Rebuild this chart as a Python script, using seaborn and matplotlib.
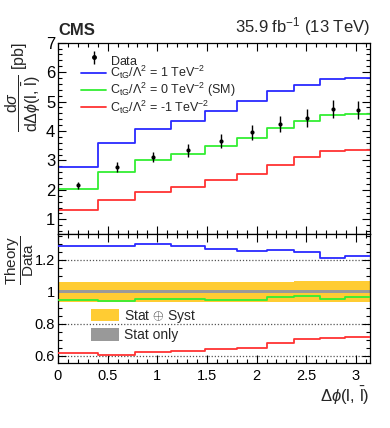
import numpy as np
import pandas as pd
import matplotlib
matplotlib.use("Agg")
import matplotlib.pyplot as plt
import seaborn as sns
from matplotlib.ticker import MultipleLocator, FixedLocator
from matplotlib.patches import Rectangle
from matplotlib.lines import Line2D

# ---------------- data ----------------
bin_edges = [0.0, 0.40, 0.78, 1.14, 1.48, 1.80, 2.10, 2.38, 2.64, 2.89, 3.1416]
data_vals = [2.15, 2.78, 3.12, 3.35, 3.66, 3.95, 4.24, 4.44, 4.75, 4.71]
data_errs = [0.13, 0.17, 0.18, 0.22, 0.23, 0.25, 0.28, 0.30, 0.30, 0.30]
ctg_p1 = [2.78, 3.58, 4.07, 4.34, 4.67, 5.01, 5.35, 5.57, 5.77, 5.80]
ctg_0 = [2.04, 2.61, 3.00, 3.21, 3.50, 3.77, 4.09, 4.34, 4.55, 4.58]
ctg_m1 = [1.30, 1.64, 1.93, 2.08, 2.32, 2.55, 2.84, 3.10, 3.32, 3.37]
ratio_p1 = [1.289, 1.289, 1.297, 1.285, 1.269, 1.256, 1.260, 1.247, 1.214, 1.225]
ratio_0 = [0.950, 0.942, 0.958, 0.954, 0.948, 0.948, 0.965, 0.971, 0.958, 0.967]
ratio_m1 = [0.619, 0.602, 0.621, 0.631, 0.640, 0.650, 0.677, 0.704, 0.710, 0.718]
unc_tot = [0.064, 0.064, 0.064, 0.064, 0.064, 0.064, 0.064, 0.065, 0.065, 0.065]
unc_stat = [0.010, 0.010, 0.010, 0.010, 0.010, 0.010, 0.010, 0.010, 0.010, 0.010]
x_ticks = [0, 0.5, 1, 1.5, 2, 2.5, 3]
x_ticklabels = ["0", "0.5", "1", "1.5", "2", "2.5", "3"]
ratio_ticks = [0.6, 0.8, 1.0, 1.2]
ratio_ticklabels = ["0.6", "0.8", "1", "1.2"]

labels = [r"$\mathrm{C_{tG}/\Lambda^{2}}$ = 1 TeV$^{-2}$",
          r"$\mathrm{C_{tG}/\Lambda^{2}}$ = 0 TeV$^{-2}$ (SM)",
          r"$\mathrm{C_{tG}/\Lambda^{2}}$ = -1 TeV$^{-2}$"]
colors = ["#2a2aff", "#33ee33", "#ff3333"]

# ---------------- style ----------------
sns.set_theme(style="ticks")
plt.rcParams["font.family"] = ["Liberation Sans", "DejaVu Sans"]
plt.rcParams["mathtext.fontset"] = "custom"
plt.rcParams["mathtext.rm"] = "Liberation Sans"
plt.rcParams["mathtext.it"] = "Liberation Sans:italic"
plt.rcParams["mathtext.bf"] = "Liberation Sans:bold"
plt.rcParams["mathtext.sf"] = "Liberation Sans"

W, H = 390, 428
fig = plt.figure(figsize=(W / 100, H / 100), dpi=100)

def px(l, t, r, b):
    return [l / W, 1 - b / H, (r - l) / W, (b - t) / H]

ax1 = fig.add_axes(px(58, 42.7, 370, 234))
ax2 = fig.add_axes(px(58, 234, 370, 363.3))

edges = np.array(bin_edges)
centers = 0.5 * (edges[:-1] + edges[1:])

def step_df(vals):
    return pd.DataFrame({"x": edges, "y": list(vals) + [vals[-1]]})

# ---------------- upper panel ----------------
for vals, c in zip([ctg_p1, ctg_0, ctg_m1], colors):
    sns.lineplot(data=step_df(vals), x="x", y="y", ax=ax1, color=c,
                 drawstyle="steps-post", lw=1.3, legend=False)

ax1.errorbar(centers, data_vals, yerr=data_errs, fmt="none", ecolor="black",
             elinewidth=1.0, capsize=0, zorder=5)
sns.scatterplot(x=centers, y=data_vals, ax=ax1, color="black", s=9,
                edgecolor="black", linewidth=0, zorder=6, legend=False)

ax1.set_xlim(0, np.pi)
ax1.set_ylim(0.5, 7)
ax1.yaxis.set_major_locator(FixedLocator([1, 2, 3, 4, 5, 6, 7]))
ax1.yaxis.set_minor_locator(MultipleLocator(0.2))
ax1.xaxis.set_major_locator(FixedLocator(x_ticks))
ax1.xaxis.set_minor_locator(MultipleLocator(0.1))
ax1.set_xticklabels([])
ax1.set_xlabel("")
ax1.set_ylabel("")

# legend upper
h_data = ax1.errorbar([], [], yerr=[], fmt="o", color="black",
                      markersize=2.5, elinewidth=1.0, capsize=0)
handles = [h_data] + [Line2D([], [], color=c, lw=1.3) for c in colors]
ax1.legend(handles, [r"Data$\mathrm{^{\ }_{\ }}$"] + labels, loc="upper left",
           bbox_to_anchor=(0.075, 0.948), frameon=False, fontsize=9,
           handlelength=2.0, handletextpad=0.25, labelspacing=-0.04,
           borderaxespad=0, borderpad=0)

# ---------------- lower panel ----------------
tot_lo = [1 - u for u in unc_tot] + [1 - unc_tot[-1]]
tot_hi = [1 + u for u in unc_tot] + [1 + unc_tot[-1]]
st_lo = [1 - u for u in unc_stat] + [1 - unc_stat[-1]]
st_hi = [1 + u for u in unc_stat] + [1 + unc_stat[-1]]
ax2.fill_between(edges, tot_lo, tot_hi, step="post", color="#ffcc33", lw=0, zorder=1)
ax2.fill_between(edges, st_lo, st_hi, step="post", color="#999999", lw=0, zorder=2)

for yv in [0.6, 0.8, 1.2]:
    ax2.axhline(yv, color="#555555", lw=0.9, ls=(0, (1, 1.5)), zorder=0.5)

for vals, c in zip([ratio_p1, ratio_0, ratio_m1], colors):
    sns.lineplot(data=step_df(vals), x="x", y="y", ax=ax2, color=c,
                 drawstyle="steps-post", lw=1.3, legend=False, zorder=3)

ax2.set_xlim(0, np.pi)
ax2.set_ylim(0.553, 1.362)
ax2.yaxis.set_major_locator(FixedLocator(ratio_ticks))
ax2.set_yticklabels(ratio_ticklabels)
ax2.yaxis.set_minor_locator(MultipleLocator(0.05))
ax2.xaxis.set_major_locator(FixedLocator(x_ticks))
ax2.set_xticklabels(x_ticklabels)
ax2.xaxis.set_minor_locator(MultipleLocator(0.1))
ax2.set_xlabel("")
ax2.set_ylabel("")

band_handles = [Rectangle((0, 0), 1, 1, color="#ffcc33", lw=0),
                Rectangle((0, 0), 1, 1, color="#999999", lw=0)]
ax2.legend(band_handles, [r"Stat $\oplus$ Syst", "Stat only"], loc="upper left",
           bbox_to_anchor=(0.106, 0.43), frameon=False, fontsize=10,
           handlelength=2.0, handleheight=1.0, handletextpad=0.4,
           labelspacing=0.25, borderaxespad=0, borderpad=0)

for ax, lab_size in [(ax1, 12), (ax2, 10.5)]:
    ax.tick_params(which="both", direction="in", top=True, right=True, colors="black")
    ax.tick_params(which="major", length=6, width=0.8)
    ax.tick_params(which="minor", length=3, width=0.8)
    ax.tick_params(axis="y", labelsize=lab_size, pad=2)
    ax.tick_params(axis="x", labelsize=10.5, pad=4)
    for s in ax.spines.values():
        s.set_color("black")
        s.set_linewidth(0.9)

# ---------------- texts ----------------
fig.text(58 / W, 1 - 38 / H, "CMS", fontsize=12, fontweight="bold", ha="left", va="bottom")
fig.text(370 / W, 1 - 38 / H, r"35.9 fb$^{-1}$ (13 TeV)", fontsize=12, ha="right", va="bottom")
fig.text(4 / W, 1 - 42 / H,
         r"$\dfrac{\mathrm{d}\sigma}{\mathrm{d}\Delta\phi(\mathrm{l},\,\bar{\mathrm{l}})}$ [pb]",
         rotation=90, fontsize=11.5, ha="left", va="top")
fig.text(3 / W, 1 - 236 / H, r"$\dfrac{\mathrm{Theory}}{\mathrm{Data}}$",
         rotation=90, fontsize=11, ha="left", va="top")
fig.text(370 / W, 1 - 396 / H, r"$\Delta\phi(\mathrm{l},\,\bar{\mathrm{l}})$",
         fontsize=12, ha="right", va="center")

fig.savefig("out.png", dpi=100)
